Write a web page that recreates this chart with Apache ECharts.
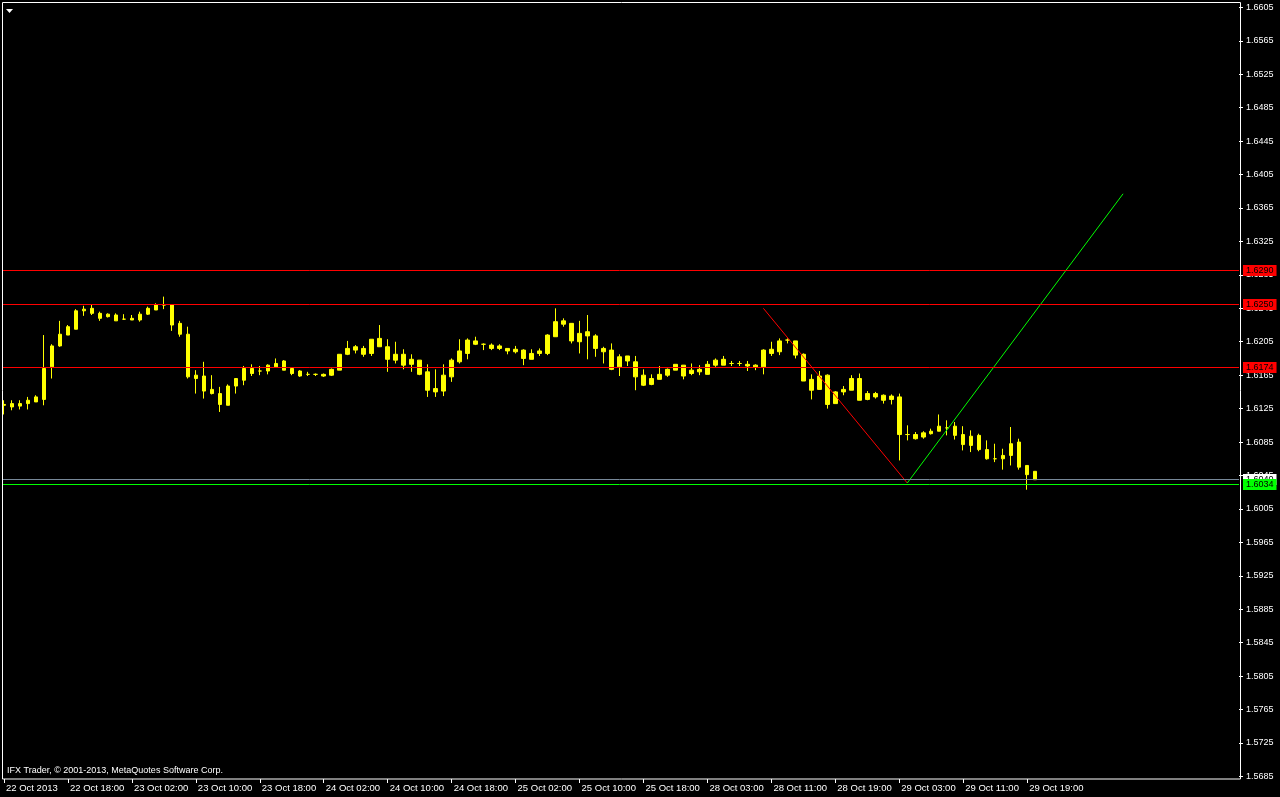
<!DOCTYPE html>
<html><head><meta charset="utf-8">
<script src="https://cdn.jsdelivr.net/npm/echarts@6/dist/echarts.min.js"></script>
<style>html,body{margin:0;padding:0;background:#000;overflow:hidden}#c{width:1280px;height:797px;}</style>
</head><body><div id="c"></div>
<script>
const xLabels = ['22 Oct 2013','22 Oct 18:00','23 Oct 02:00','23 Oct 10:00','23 Oct 18:00','24 Oct 02:00','24 Oct 10:00','24 Oct 18:00','25 Oct 02:00','25 Oct 10:00','25 Oct 18:00','28 Oct 03:00','28 Oct 11:00','28 Oct 19:00','29 Oct 03:00','29 Oct 11:00','29 Oct 19:00'];
const totalSlots = 155;
const opens = [1.6129,1.6131,1.6128,1.6131,1.6133,1.6136,1.6175,1.6200,1.6213,1.6220,
1.6242,1.6245,1.6239,1.6235,1.6237,1.6232,1.6231,1.6231,1.6238,1.6243,
1.6249,1.6249,1.6227,1.6214,1.6161,1.6164,1.6143,1.6143,1.6129,1.6152,
1.6159,1.6173,1.6170,1.6170,1.6175,1.6182,1.6173,1.6170,1.6166,1.6166,
1.6164,1.6165,1.6171,1.6190,1.6199,1.6190,1.6191,1.6209,1.6199,1.6183,
1.6190,1.6178,1.6183,1.6169,1.6145,1.6146,1.6163,1.6181,1.6191,1.6206,
1.6202,1.6201,1.6197,1.6197,1.6193,1.6195,1.6184,1.6191,1.6191,1.6211,
1.6230,1.6227,1.6205,1.6217,1.6212,1.6197,1.6195,1.6175,1.6188,1.6181,
1.6165,1.6154,1.6160,1.6165,1.6171,1.6177,1.6167,1.6169,1.6166,1.6177,
1.6184,1.6179,1.6179,1.6178,1.6177,1.6175,1.6191,1.6193,1.6207,1.6206,
1.6190,1.6160,1.6148,1.6165,1.6131,1.6145,1.6147,1.6161,1.6136,1.6143,
1.6141,1.6136,1.6139,1.6094,1.6094,1.6091,1.6095,1.6098,1.6102,1.6104,
1.6094,1.6081,1.6093,1.6076,1.6065,1.6065,1.6069,1.6085,1.6057,1.6050];
const closes = [1.6130,1.6127,1.6131,1.6135,1.6139,1.6173,1.6200,1.6214,1.6223,1.6242,
1.6244,1.6239,1.6233,1.6238,1.6230,1.6232,1.6233,1.6238,1.6245,1.6249,
1.6249,1.6225,1.6214,1.6163,1.6165,1.6146,1.6148,1.6130,1.6152,1.6161,
1.6173,1.6167,1.6170,1.6177,1.6179,1.6171,1.6167,1.6164,1.6166,1.6166,
1.6166,1.6172,1.6190,1.6197,1.6195,1.6197,1.6208,1.6199,1.6184,1.6190,
1.6177,1.6184,1.6166,1.6147,1.6149,1.6165,1.6183,1.6194,1.6207,1.6202,
1.6202,1.6197,1.6200,1.6194,1.6196,1.6185,1.6191,1.6194,1.6213,1.6229,
1.6226,1.6206,1.6215,1.6212,1.6197,1.6193,1.6172,1.6187,1.6182,1.6163,
1.6153,1.6161,1.6166,1.6172,1.6178,1.6164,1.6171,1.6172,1.6178,1.6183,
1.6177,1.6179,1.6179,1.6176,1.6175,1.6195,1.6196,1.6206,1.6207,1.6189,
1.6158,1.6147,1.6164,1.6130,1.6145,1.6148,1.6161,1.6135,1.6143,1.6139,
1.6135,1.6140,1.6094,1.6094,1.6089,1.6096,1.6098,1.6104,1.6102,1.6093,
1.6082,1.6092,1.6076,1.6065,1.6065,1.6069,1.6083,1.6055,1.6046,1.6040];
const lows = [1.6118,1.6123,1.6124,1.6124,1.6133,1.6129,1.6161,1.6199,1.6213,1.6220,
1.6236,1.6237,1.6230,1.6234,1.6230,1.6231,1.6231,1.6229,1.6237,1.6243,
1.6244,1.6218,1.6211,1.6161,1.6143,1.6137,1.6142,1.6121,1.6129,1.6143,
1.6153,1.6164,1.6165,1.6166,1.6175,1.6171,1.6165,1.6163,1.6164,1.6164,
1.6163,1.6164,1.6171,1.6189,1.6191,1.6187,1.6188,1.6199,1.6169,1.6179,
1.6172,1.6169,1.6165,1.6139,1.6139,1.6140,1.6157,1.6179,1.6184,1.6201,
1.6195,1.6195,1.6195,1.6190,1.6191,1.6177,1.6184,1.6188,1.6189,1.6211,
1.6223,1.6203,1.6191,1.6184,1.6187,1.6179,1.6171,1.6164,1.6176,1.6147,
1.6152,1.6153,1.6160,1.6163,1.6171,1.6160,1.6165,1.6165,1.6166,1.6175,
1.6177,1.6176,1.6176,1.6170,1.6171,1.6166,1.6188,1.6189,1.6203,1.6185,
1.6158,1.6136,1.6148,1.6125,1.6131,1.6141,1.6147,1.6135,1.6135,1.6137,
1.6131,1.6130,1.6063,1.6087,1.6088,1.6089,1.6094,1.6098,1.6093,1.6088,
1.6075,1.6073,1.6074,1.6064,1.6061,1.6052,1.6057,1.6052,1.6028,1.6040];
const highs = [1.6135,1.6135,1.6135,1.6139,1.6141,1.6213,1.6202,1.6230,1.6225,1.6244,
1.6248,1.6249,1.6241,1.6239,1.6239,1.6238,1.6237,1.6241,1.6247,1.6251,
1.6259,1.6250,1.6230,1.6223,1.6171,1.6181,1.6165,1.6151,1.6154,1.6161,
1.6176,1.6178,1.6176,1.6178,1.6185,1.6183,1.6173,1.6171,1.6169,1.6167,
1.6167,1.6173,1.6190,1.6206,1.6201,1.6200,1.6208,1.6225,1.6208,1.6205,
1.6196,1.6190,1.6183,1.6178,1.6172,1.6178,1.6185,1.6208,1.6209,1.6211,
1.6203,1.6203,1.6202,1.6197,1.6200,1.6196,1.6196,1.6197,1.6214,1.6245,
1.6233,1.6227,1.6230,1.6237,1.6214,1.6199,1.6203,1.6190,1.6188,1.6188,
1.6172,1.6166,1.6176,1.6173,1.6178,1.6177,1.6179,1.6177,1.6182,1.6185,
1.6188,1.6182,1.6182,1.6182,1.6178,1.6196,1.6205,1.6209,1.6209,1.6206,
1.6191,1.6166,1.6170,1.6166,1.6146,1.6152,1.6165,1.6167,1.6146,1.6145,
1.6142,1.6142,1.6143,1.6105,1.6097,1.6098,1.6101,1.6118,1.6111,1.6109,
1.6104,1.6099,1.6095,1.6087,1.6083,1.6077,1.6103,1.6089,1.6057,1.6050];
const yTicks = [1.5685,1.5725,1.5765,1.5805,1.5845,1.5885,1.5925,1.5965,1.6005,1.6045,1.6085,1.6125,1.6165,1.6205,1.6245,1.6285,1.6325,1.6365,1.6405,1.6445,1.6485,1.6525,1.6565,1.6605];
const redLevels = [1.6290, 1.6250, 1.6174];
const greenLevel = 1.6034;
const bidPrice = 1.6040;
const redTrend = [[95, 1.6245], [113, 1.6036]];
const greenTrend = [[113, 1.6036], [140, 1.6382]];
const yMin = 1.568191, yMax = 1.661025;

const FONT = 'Liberation Sans, Arial, sans-serif';
const cats = Array.from({length: totalSlots}, (_, i) => String(i));
const candleData = opens.map((o, i) => [o, closes[i], lows[i], highs[i]]);
const showIdx = (i) => i % 8 === 0 && (i / 8) < xLabels.length;

const levelDefs = [
  {v: redLevels[0], line: '#ff0000', bg: '#ff0000', txt: redLevels[0]},
  {v: redLevels[1], line: '#ff0000', bg: '#ff0000', txt: redLevels[1]},
  {v: redLevels[2], line: '#ff0000', bg: '#ff0000', txt: redLevels[2]},
  {v: bidPrice, line: '#778899', bg: '#ffffff', txt: bidPrice},
  {v: greenLevel, line: '#00ff00', bg: '#00ff00', txt: greenLevel}
];

function lvl(d, pos) {
  return {
    yAxis: pos,
    lineStyle: {color: d.line, width: 1, type: 'solid', opacity: 1},
    label: {show: true, position: 'end', distance: 4, formatter: () => d.txt.toFixed(4),
      backgroundColor: d.bg, color: '#000000', padding: [1, 3, 0, 3], fontSize: 9, fontFamily: FONT, lineHeight: 10}
  };
}

const chart = echarts.init(document.getElementById('c'), null, {renderer: 'canvas'});
const option = {
  backgroundColor: '#000000',
  animation: false,
  grid: {left: -1, right: 41, top: 3, bottom: 18, containLabel: false},
  xAxis: {
    type: 'category', data: cats, boundaryGap: true,
    axisLine: {show: false},
    axisTick: {show: true, alignWithLabel: true, length: 4, interval: (i) => showIdx(i), lineStyle: {color: '#ffffff'}},
    axisLabel: {show: true, interval: (i) => showIdx(i), formatter: (v, i) => showIdx(i) ? xLabels[i / 8] : '',
      align: 'left', color: '#ffffff', fontSize: 9.5, fontFamily: FONT, margin: 4, padding: [0, 0, 0, 2]},
    splitLine: {show: false}
  },
  yAxis: {
    type: 'value', position: 'right', min: yMin, max: yMax, scale: true,
    axisLine: {show: false},
    axisTick: {show: true, length: 4, customValues: yTicks, lineStyle: {color: '#ffffff'}},
    axisLabel: {show: true, customValues: yTicks, formatter: (v) => v.toFixed(4), color: '#ffffff', fontSize: 9, fontFamily: FONT, margin: 7},
    splitLine: {show: false}
  },
  series: [
    {
      type: 'candlestick', data: candleData, barWidth: 4,
      itemStyle: {color: '#ffff00', color0: '#ffff00', borderColor: '#ffff00', borderColor0: '#ffff00', borderWidth: 1},
      markLine: {symbol: 'none', silent: true, animation: false, precision: 6, data: []}
    },
    {type: 'line', data: redTrend, showSymbol: false, symbol: 'none', lineStyle: {color: '#ff0000', width: 1}, silent: true},
    {type: 'line', data: greenTrend, showSymbol: false, symbol: 'none', lineStyle: {color: '#00ff00', width: 1}, silent: true}
  ],
  graphic: [
    {type: 'rect', z: 100, shape: {x: 0, y: 0, width: 2.5, height: 797}, style: {fill: '#000000'}},
    {type: 'rect', z: 101, shape: {x: 2.5, y: 2.5, width: 1238, height: 776.5}, style: {fill: 'none', stroke: '#ffffff', lineWidth: 1}},
    {type: 'polygon', z: 102, shape: {points: [[6, 9], [13, 9], [9.5, 13]]}, style: {fill: '#ffffff'}},
    {type: 'text', z: 102, left: 7, top: 766, style: {text: 'IFX Trader, © 2001-2013, MetaQuotes Software Corp.', fill: '#ffffff', font: '9px ' + FONT}}
  ]
};
chart.setOption(option);
// snap horizontal level lines to pixel centres so they render crisp (positions come from the axis scale)
const snapped = levelDefs.map(d => {
  const py = chart.convertToPixel({yAxisIndex: 0}, d.v);
  const sy = Math.floor(py) + 0.5;
  return lvl(d, chart.convertFromPixel({yAxisIndex: 0}, sy));
});
chart.setOption({series: [{markLine: {data: snapped}}]});
</script></body></html>
